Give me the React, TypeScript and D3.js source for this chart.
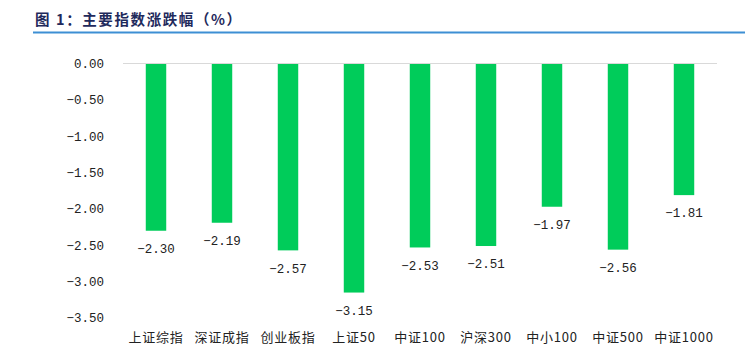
import React from "react";
import * as d3 from "d3";

const categories = ["上证综指", "深证成指", "创业板指", "上证50", "中证100", "沪深300", "中小100", "中证500", "中证1000"];
const values = [-2.30, -2.19, -2.57, -3.15, -2.53, -2.51, -1.97, -2.56, -1.81];
const yTicks = [0, -0.5, -1, -1.5, -2, -2.5, -3, -3.5];
const title = "图 1：主要指数涨跌幅（%）";

export default function App() {
  const W = 749, H = 364;
  const x = d3.scaleBand<string>().domain(categories).range([123, 717]).paddingInner(0.69).paddingOuter(0.345);
  const y = d3.scaleLinear().domain([0, -3.5]).range([63.5, 318]);
  const font = "'Noto Sans CJK SC', 'DejaVu Sans', sans-serif";
  const mono = "'Liberation Mono', 'DejaVu Sans Mono', monospace";
  const fmt = (v: number) => v.toFixed(2).replace("-", "−");
  return (
    <svg width={W} height={H} style={{ position: "absolute", left: 0, top: 0, background: "#fff" }}>
      <text x={35} y={25} fontFamily={font} fontWeight="bold" fontSize={14.5} fill="#1f2a5c" letterSpacing={1.6}>{title}</text>
      <line x1={33} x2={745} y1={32.5} y2={32.5} stroke="#3d8fd4" strokeWidth={2} />
      {yTicks.map((t) => (
        <text key={t} x={104} y={y(t)} dy="0.35em" textAnchor="end" fontFamily={mono} fontSize={12.5} fill="#222">
          {fmt(t === 0 ? 0 : t)}
        </text>
      ))}
      {categories.map((c, i) => (
        <g key={c}>
          <rect x={x(c)} y={y(0)} width={x.bandwidth()} height={y(values[i]) - y(0)} fill="#00cc5a" />
          <text x={(x(c) as number) + x.bandwidth() / 2} y={y(values[i]) + 18} dy="0.35em" textAnchor="middle" fontFamily={mono} fontSize={12.5} fill="#222">
            {fmt(values[i])}
          </text>
          <text x={(x(c) as number) + x.bandwidth() / 2} y={337} dy="0.35em" textAnchor="middle" fontFamily={font} fontSize={13} fill="#222" letterSpacing={0.8}>
            {c}
          </text>
        </g>
      ))}
      <line x1={123} x2={717} y1={y(0)} y2={y(0)} stroke="#d9d9d9" strokeWidth={1} />
    </svg>
  );
}
